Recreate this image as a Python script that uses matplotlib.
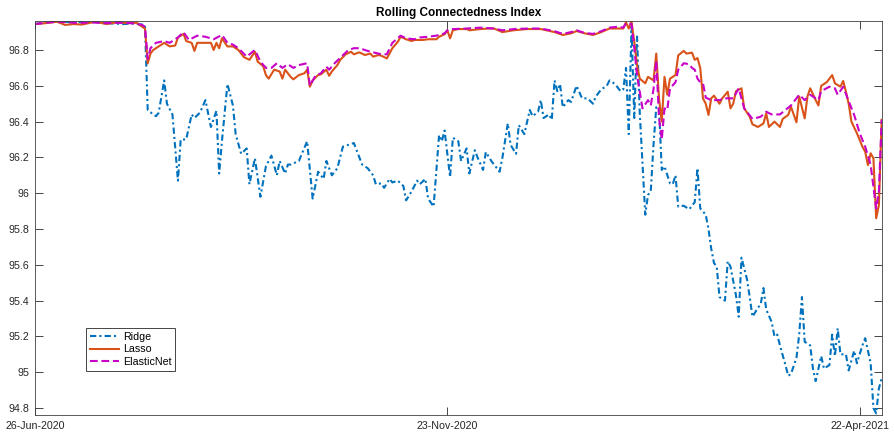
import matplotlib
matplotlib.use("Agg")
import matplotlib.pyplot as plt
import matplotlib.dates as mdates
import numpy as np
import pandas as pd

plt.rcParams['font.family'] = ['Liberation Sans', 'DejaVu Sans']

start = pd.Timestamp('2020-06-26')
tick_days = [0, 150, 300]
ytick_vals = np.round(np.arange(94.8, 96.81, 0.2), 1)

# Ridge: days since 26-Jun-2020 and index value
ridge_day = [0, 4, 8, 14, 20, 26, 32, 36, 40, 41, 43, 44, 45, 47, 48, 50, 52, 53, 55, 57,
             58, 60, 62, 64, 66, 67, 68, 70, 72, 73, 75, 77, 78, 80, 82, 84, 86, 88, 89, 91,
             92, 93, 96, 99, 101, 103, 105, 106, 108, 110, 112, 114, 116, 117, 119, 121, 123, 124, 126, 127,
             129, 130, 132, 134, 135, 137, 139, 140, 142, 143, 145, 147, 148, 149, 151, 152, 154, 155, 157, 158,
             160, 161, 163, 164, 166, 169, 170, 172, 173, 175, 176, 178, 180, 181, 183, 184, 185, 187, 188, 189,
             190, 191, 192, 194, 195, 197, 199, 201, 203, 204, 206, 208, 209, 211, 213, 214, 215, 216, 217, 218,
             219, 220, 222, 223, 224, 225, 226, 227, 228, 229, 231, 232, 233, 234, 236, 238, 240, 241, 242, 244,
             245, 246, 247, 248, 249, 251, 252, 253, 255, 256, 257, 259, 260, 261, 263, 264, 265, 266, 268, 269,
             270, 271, 273, 274, 275, 277, 278, 279, 280, 282, 283, 284, 285, 286, 287, 289, 290, 291, 292, 293,
             295, 296, 298, 299, 301, 302, 304, 305, 306, 307, 308]
ridge_val = [96.945, 96.955, 96.96, 96.955, 96.958, 96.95, 96.945, 96.948, 96.94, 96.465, 96.44, 96.43, 96.45, 96.63, 96.50, 96.44, 96.07, 96.30, 96.30, 96.44,
             96.42, 96.45, 96.52, 96.37, 96.46, 96.11, 96.29, 96.61, 96.49, 96.33, 96.22, 96.25, 96.05, 96.195, 95.98, 96.15, 96.21, 96.10, 96.18, 96.11,
             96.16, 96.16, 96.18, 96.29, 95.97, 96.12, 96.08, 96.18, 96.10, 96.14, 96.26, 96.27, 96.28, 96.24, 96.16, 96.14, 96.10, 96.05, 96.055, 96.03,
             96.08, 96.06, 96.07, 96.04, 95.96, 96.01, 96.07, 96.05, 96.08, 95.97, 95.925, 96.325, 96.29, 96.35, 96.09, 96.31, 96.29, 96.18, 96.25, 96.11,
             96.24, 96.20, 96.13, 96.23, 96.18, 96.12, 96.195, 96.39, 96.27, 96.22, 96.38, 96.33, 96.465, 96.43, 96.455, 96.52, 96.42, 96.44, 96.41, 96.63,
             96.57, 96.61, 96.48, 96.52, 96.51, 96.60, 96.53, 96.53, 96.50, 96.54, 96.58, 96.60, 96.63, 96.61, 96.57, 96.58, 96.70, 96.33, 96.93, 96.42,
             96.88, 96.45, 95.88, 95.99, 96.01, 96.27, 96.48, 96.48, 96.13, 96.15, 96.055, 96.05, 96.10, 95.925, 95.93, 95.91, 95.95, 96.14, 95.915, 95.88,
             95.80, 95.69, 95.61, 95.59, 95.42, 95.40, 95.62, 95.59, 95.43, 95.31, 95.64, 95.52, 95.42, 95.31, 95.36, 95.38, 95.47, 95.35, 95.28, 95.20,
             95.21, 95.15, 95.04, 94.98, 94.99, 95.08, 95.21, 95.42, 95.17, 95.15, 95.02, 94.95, 95.02, 95.09, 95.02, 95.04, 95.21, 95.09, 95.245, 95.10,
             95.10, 95.01, 95.12, 95.05, 95.15, 95.19, 95.05, 94.80, 94.77, 94.91, 94.965]

# Lasso
lasso_day = [0, 4, 8, 11, 14, 17, 22, 26, 30, 34, 37, 39, 40, 41, 42, 43, 45, 47, 48, 49,
             51, 52, 54, 55, 57, 58, 59, 61, 62, 64, 65, 66, 67, 68, 70, 72, 74, 76, 78, 80,
             81, 83, 84, 85, 87, 89, 90, 91, 93, 94, 96, 98, 99, 100, 101, 103, 104, 106, 107, 108,
             110, 111, 113, 115, 116, 118, 120, 122, 123, 125, 126, 128, 130, 132, 133, 135, 137, 138, 141, 143,
             146, 147, 149, 150, 151, 152, 154, 157, 158, 162, 165, 167, 170, 174, 179, 184, 189, 192, 195, 197,
             200, 203, 206, 209, 212, 214, 215, 216, 217, 218, 219, 220, 222, 223, 225, 226, 227, 228, 229, 230,
             231, 233, 234, 236, 237, 239, 240, 241, 242, 243, 244, 245, 246, 247, 249, 250, 252, 253, 254, 255,
             257, 258, 260, 261, 263, 265, 266, 267, 269, 271, 272, 274, 275, 277, 278, 280, 281, 282, 284, 285,
             286, 288, 290, 291, 293, 294, 295, 296, 297, 299, 301, 302, 303, 304, 305, 306, 307, 308]
lasso_val = [96.945, 96.95, 96.958, 96.94, 96.945, 96.942, 96.958, 96.945, 96.955, 96.95, 96.952, 96.93, 96.92, 96.725, 96.78, 96.80, 96.82, 96.84, 96.83, 96.82,
             96.825, 96.87, 96.89, 96.85, 96.84, 96.795, 96.84, 96.84, 96.84, 96.84, 96.80, 96.84, 96.81, 96.865, 96.82, 96.82, 96.80, 96.76, 96.745, 96.79,
             96.735, 96.71, 96.66, 96.64, 96.69, 96.68, 96.64, 96.69, 96.65, 96.636, 96.66, 96.67, 96.69, 96.595, 96.63, 96.66, 96.664, 96.69, 96.656, 96.68,
             96.716, 96.744, 96.776, 96.79, 96.776, 96.787, 96.772, 96.78, 96.763, 96.772, 96.768, 96.753, 96.81, 96.846, 96.874, 96.86, 96.85, 96.856, 96.856, 96.86,
             96.86, 96.874, 96.888, 96.91, 96.865, 96.91, 96.917, 96.917, 96.91, 96.917, 96.92, 96.92, 96.90, 96.91, 96.917, 96.917, 96.90, 96.884, 96.893, 96.906,
             96.893, 96.884, 96.90, 96.92, 96.92, 96.92, 96.955, 96.92, 96.96, 96.846, 96.716, 96.64, 96.614, 96.65, 96.63, 96.78, 96.53, 96.40, 96.65, 96.55,
             96.64, 96.66, 96.77, 96.795, 96.78, 96.785, 96.745, 96.755, 96.70, 96.53, 96.50, 96.437, 96.53, 96.545, 96.50, 96.53, 96.567, 96.474, 96.50, 96.57,
             96.586, 96.474, 96.427, 96.385, 96.37, 96.39, 96.446, 96.37, 96.40, 96.37, 96.415, 96.437, 96.483, 96.396, 96.54, 96.418, 96.54, 96.586, 96.52, 96.49,
             96.60, 96.62, 96.66, 96.614, 96.595, 96.627, 96.567, 96.50, 96.40, 96.335, 96.26, 96.232, 96.157, 96.223, 96.195, 95.86, 95.934, 96.41]

# ElasticNet
enet_day = [0, 4, 8, 12, 16, 20, 25, 30, 35, 39, 40, 41, 42, 44, 47, 49, 52, 54, 56, 59,
            62, 64, 65, 68, 70, 72, 74, 77, 80, 82, 84, 86, 88, 90, 92, 94, 96, 99, 100, 102,
            104, 106, 107, 109, 112, 114, 116, 118, 121, 123, 126, 128, 130, 133, 135, 138, 140, 143, 146, 149,
            150, 152, 157, 162, 167, 170, 175, 180, 184, 189, 192, 195, 197, 200, 203, 206, 209, 212, 214, 215,
            217, 218, 219, 220, 221, 223, 224, 225, 226, 227, 228, 229, 230, 231, 233, 234, 236, 238, 239, 240,
            241, 242, 243, 244, 246, 249, 251, 254, 256, 258, 261, 264, 266, 268, 271, 273, 275, 278, 280, 282,
            285, 286, 289, 291, 292, 294, 296, 298, 300, 302, 303, 304, 306, 307, 308]
enet_val = [96.945, 96.952, 96.958, 96.955, 96.95, 96.955, 96.95, 96.952, 96.95, 96.94, 96.93, 96.75, 96.81, 96.84, 96.85, 96.84, 96.87, 96.90, 96.856, 96.88,
            96.874, 96.865, 96.86, 96.884, 96.84, 96.83, 96.81, 96.763, 96.80, 96.735, 96.70, 96.70, 96.726, 96.70, 96.72, 96.70, 96.716, 96.726, 96.60, 96.656,
            96.67, 96.707, 96.69, 96.726, 96.77, 96.80, 96.81, 96.81, 96.795, 96.787, 96.776, 96.776, 96.84, 96.88, 96.865, 96.86, 96.87, 96.874, 96.88, 96.893,
            96.91, 96.917, 96.92, 96.925, 96.92, 96.91, 96.918, 96.92, 96.92, 96.905, 96.89, 96.90, 96.91, 96.895, 96.89, 96.905, 96.925, 96.93, 96.925, 96.95,
            96.945, 96.81, 96.66, 96.567, 96.474, 96.52, 96.49, 96.58, 96.74, 96.42, 96.30, 96.474, 96.465, 96.586, 96.62, 96.69, 96.726, 96.72, 96.70, 96.69,
            96.64, 96.62, 96.614, 96.534, 96.52, 96.52, 96.53, 96.53, 96.586, 96.474, 96.415, 96.427, 96.455, 96.44, 96.44, 96.465, 96.49, 96.55, 96.52, 96.55,
            96.52, 96.57, 96.595, 96.586, 96.55, 96.595, 96.515, 96.437, 96.335, 96.26, 96.21, 96.157, 95.915, 96.01, 96.41]


def to_dates(days):
    return start + pd.to_timedelta(days, unit='D')


fig = plt.figure(figsize=(8.95, 4.33), dpi=100)
ax = fig.add_axes([0.0391, 0.0416, 0.946, 0.9099])

ax.plot(to_dates(ridge_day), ridge_val, color='#0072BD', lw=1.5,
        linestyle=(0, (3, 1.5, 1, 1.5)), label='Ridge')
ax.plot(to_dates(lasso_day), lasso_val, color='#D95319', lw=1.5, label='Lasso')
ax.plot(to_dates(enet_day), enet_val, color='#C800C8', lw=1.5,
        linestyle=(0, (3.7, 1.8)), label='ElasticNet')

ax.set_xlim(to_dates([0])[0], to_dates([308])[0])
ax.set_ylim(94.761, 96.962)
ax.set_xticks(to_dates(tick_days))
ax.xaxis.set_major_formatter(mdates.DateFormatter('%d-%b-%Y'))
ax.set_yticks(ytick_vals)
ax.set_yticklabels(['%g' % v for v in ytick_vals])

ax.tick_params(direction='in', length=5.8, width=0.6, colors='#262626',
               labelsize=7.7, top=True, right=True, pad=4)
for s in ax.spines.values():
    s.set_color('#404040')
    s.set_linewidth(0.6)

ax.set_title('Rolling Connectedness Index', fontsize=8.5, fontweight='bold',
             color='black', pad=3.5)

leg = ax.legend(loc='lower left', bbox_to_anchor=(0.06, 0.112), fontsize=7.7,
                handlelength=2.8, handletextpad=0.3, labelspacing=0.25,
                borderpad=0.35, borderaxespad=0, fancybox=False, framealpha=1)
leg.get_frame().set_edgecolor('#262626')
leg.get_frame().set_linewidth(0.6)

fig.savefig('out.png', dpi=100)
